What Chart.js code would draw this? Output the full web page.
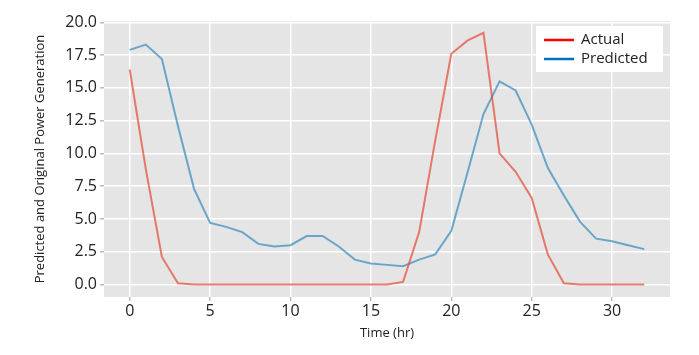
<!DOCTYPE html>
<html>
<head>
<meta charset="utf-8">
<script src="https://cdn.jsdelivr.net/npm/chart.js@4/dist/chart.umd.min.js"></script>
<style>
  html, body { margin: 0; padding: 0; background: #fff; }
  #wrap { width: 699px; height: 355px; }
</style>
</head>
<body>
<div id="wrap"><canvas id="myChart" width="699" height="355"></canvas></div>
<script>
// hours 0..32
var hours = [0,1,2,3,4,5,6,7,8,9,10,11,12,13,14,15,16,17,18,19,20,21,22,23,24,25,26,27,28,29,30,31,32];
var actual = [16.4,8.8,2.1,0.1,0,0,0,0,0,0,0,0,0,0,0,0,0,0.2,4.0,11.0,17.6,18.6,19.2,10.0,8.6,6.6,2.3,0.1,0,0,0,0,0];
var predicted = [17.9,18.3,17.2,12.1,7.3,4.7,4.4,4.0,3.1,2.9,3.0,3.7,3.7,2.9,1.9,1.6,1.5,1.4,1.9,2.3,4.1,8.5,13.0,15.5,14.8,12.2,8.9,6.8,4.8,3.5,3.3,3.0,2.7];
var xTicks = [0,5,10,15,20,25,30];
var yTicks = [0,2.5,5,7.5,10,12.5,15,17.5,20];
var seriesNames = ['Actual', 'Predicted'];

function toPoints(ys) {
    return ys.map(function(v, i) { return {x: hours[i], y: v}; });
}

var bgPlugin = {
    id: 'plotBg',
    beforeDraw: function(chart) {
        var a = chart.chartArea, c = chart.ctx;
        c.save();
        c.fillStyle = '#E5E5E5';
        c.fillRect(a.left, a.top, a.right - a.left, a.bottom - a.top);
        c.restore();
    }
};

// legend box drawn inside the plot like the original
var legendBox = {
    id: 'legendBox',
    afterDraw: function(chart) {
        var c = chart.ctx, a = chart.chartArea;
        var x = a.right - 134, y = a.top + 5;
        c.save();
        c.fillStyle = '#fff';
        c.fillRect(x, y, 127, 46);
        var cols = ['#FF0000', '#0070C0'];
        c.font = '15px "Open Sans", "Noto Sans", sans-serif';
        c.textBaseline = 'middle';
        for (var i = 0; i < 2; i++) {
            var ly = y + 14 + i * 19;
            c.strokeStyle = cols[i];
            c.lineWidth = 2.5;
            c.beginPath();
            c.moveTo(x + 8, ly);
            c.lineTo(x + 38, ly);
            c.stroke();
            c.fillStyle = '#222';
            c.fillText(seriesNames[i], x + 45, ly);
        }
        c.restore();
    }
};

window.onload = function() {
    var ctx = document.getElementById('myChart').getContext('2d');
    var myChart = new Chart(ctx, {
        type: 'line',
        data: {
            datasets: [{
                label: seriesNames[0],
                data: toPoints(actual),
                borderColor: 'rgba(226, 74, 51, 0.7)',
                borderWidth: 2,
                pointRadius: 0,
                tension: 0
            },
            {
                label: seriesNames[1],
                data: toPoints(predicted),
                borderColor: 'rgba(52, 138, 189, 0.7)',
                borderWidth: 2,
                pointRadius: 0,
                tension: 0
            }]
        },
        options: {
            responsive: false,
            animation: false,
            layout: { padding: { top: 21, right: 29, left: 28, bottom: 14 } },
            plugins: { legend: { display: false }, tooltip: { enabled: false } },
            scales: {
                x: {
                    type: 'linear',
                    min: -1.6,
                    max: 33.6,
                    afterBuildTicks: function(s) { s.ticks = xTicks.map(function(v) { return {value: v}; }); },
                    afterFit: function(s) { s.height = 44; },
                    grid: { color: '#fff', lineWidth: 1.5, tickColor: '#bbb', tickLength: 4 },
                    border: { display: false },
                    ticks: { color: '#222', font: { size: 16, family: '"Open Sans", "Noto Sans", sans-serif' }, padding: 1, maxRotation: 0 },
                    title: { display: true, text: 'Time (hr)', color: '#222', font: { size: 13, family: '"Open Sans", "Noto Sans", sans-serif' }, padding: { top: 0, bottom: 0 } }
                },
                y: {
                    min: -0.95,
                    max: 20.1,
                    afterBuildTicks: function(s) { s.ticks = yTicks.map(function(v) { return {value: v}; }); },
                    afterFit: function(s) { s.width = 76; },
                    grid: { color: '#fff', lineWidth: 1.5, tickColor: '#bbb', tickLength: 4 },
                    border: { display: false },
                    ticks: {
                        color: '#222',
                        font: { size: 16, family: '"Open Sans", "Noto Sans", sans-serif' },
                        padding: 3,
                        callback: function(v) { return v.toFixed(1); }
                    },
                    title: { display: true, text: 'Predicted and Original Power Generation', color: '#222', font: { size: 13, family: '"Open Sans", "Noto Sans", sans-serif' }, padding: { bottom: 6 } }
                }
            }
        },
        plugins: [bgPlugin, legendBox]
    });
};
</script>
</body>
</html>
